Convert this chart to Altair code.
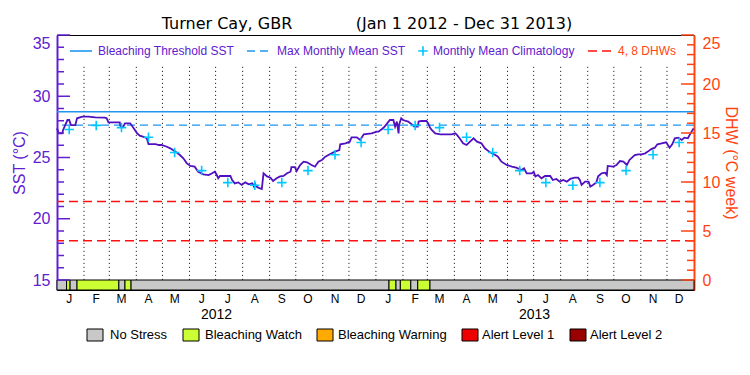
import altair as alt
import numpy as np
import pandas as pd

# ---------------- values ----------------
site_title = "Turner Cay, GBR"
period_title = "(Jan 1 2012 - Dec 31 2013)"

# daily SST line: day offset from 2012-01-01, SST (deg C)
sst_day = [0, 2, 6, 7, 12, 14, 16, 21, 23, 29, 36, 44, 55, 57, 59, 72, 73, 76, 78, 84,
           88, 92, 95, 101, 103, 105, 113, 117, 120, 126, 130, 136, 141, 145, 149, 153, 158, 162, 168, 174,
           178, 181, 183, 185,
           187, 199, 201, 204, 208, 212, 216, 220, 224, 226, 227, 229, 231, 235, 237, 241, 245, 248, 252, 256,
           260, 264, 268, 269, 273, 275, 279, 283, 287, 292, 296, 300, 304, 308, 313, 319, 324, 325, 331, 336,
           338, 344, 348, 352, 361, 367,
           369, 373, 376, 382, 386, 388, 390, 392, 392.5, 395, 397, 403, 407, 410, 414, 415, 418, 424, 426, 428,
           430, 434, 440, 453, 457, 459, 462, 466, 470, 474, 478, 482, 487, 491, 497, 503, 506, 510, 516, 522,
           527, 533, 536, 539, 545, 547, 549, 552,
           556, 560, 566, 569, 573, 577, 581, 585, 589, 594, 598, 600, 602, 606, 610, 612, 615, 619, 621, 625,
           629, 631, 632, 638, 642, 646, 650, 654, 657, 663, 667, 671, 675, 678, 682, 686, 689, 694, 699, 703,
           706, 709, 713, 717, 720, 724, 727, 730.5]
sst_val = [27.38, 26.97, 26.97, 27.25, 28.06, 28.06, 27.65, 27.65, 28.20, 28.33, 28.33, 28.28, 28.25, 28.20, 27.87, 27.87, 27.52, 27.52, 27.79, 27.79,
           27.38, 26.97, 26.78, 26.65, 26.57, 26.10, 26.10, 26.02, 26.02, 25.88, 25.75, 25.48, 25.20, 24.93, 24.52, 24.31, 24.25, 23.84, 23.63, 23.57,
           23.71, 23.84, 23.63, 23.30,
           23.49, 23.49, 23.16, 22.89, 22.97, 22.76, 22.97, 22.81, 22.89, 22.62, 22.89, 22.62, 22.54, 22.43, 23.71, 23.46, 23.35, 23.08, 23.30, 23.46,
           23.49, 23.71, 23.84, 24.22, 24.22, 23.90, 24.39, 24.66, 24.61, 24.39, 24.25, 24.66, 24.80, 25.07, 25.26, 25.48, 25.61, 26.08, 26.16, 26.29,
           26.65, 26.65, 26.43, 26.89, 26.97, 27.11,
           27.11, 27.33, 27.52, 28.06, 28.06, 27.52, 27.93, 26.97, 27.65, 28.20, 28.06, 27.93, 27.71, 27.52, 27.52, 27.93, 27.98, 27.98, 27.79, 27.44,
           27.25, 26.97, 26.89, 26.89, 26.97, 26.84, 26.57, 26.16, 26.02, 26.29, 26.57, 26.29, 26.16, 25.75, 25.42, 25.20, 25.07, 24.66, 24.39, 24.25,
           24.17, 23.98, 24.12, 23.71, 23.71, 23.84, 23.46, 23.57,
           23.30, 23.49, 23.49, 23.16, 23.25, 23.03, 23.16, 23.03, 23.25, 23.35, 23.35, 23.16, 22.76, 23.03, 23.03, 22.62, 22.76, 22.97, 23.46, 23.71,
           23.76, 23.57, 24.31, 24.25, 24.39, 24.71, 24.66, 24.39, 24.80, 25.20, 25.26, 25.26, 25.34, 25.48, 25.69, 25.80, 26.08, 26.16, 26.24, 25.80,
           26.08, 26.57, 26.62, 26.43, 26.62, 26.57, 26.97, 27.38]

# monthly mean climatology (same each year), plotted mid-month
clim_month = [1, 2, 3, 4, 5, 6, 7, 8, 9, 10, 11, 12]
clim_val = [27.28, 27.62, 27.44, 26.65, 25.41, 23.93, 22.95, 22.73, 22.95, 23.93, 25.23, 26.22]
month_letters = ["J", "F", "M", "A", "M", "J", "J", "A", "S", "O", "N", "D"]
years = [2012, 2013]

bleaching_threshold = 28.74
max_monthly_mean = 27.65
dhw_levels = [4, 8]

# bleaching stress status bar
stress_start = ["2012-01-01", "2012-01-12", "2012-01-16", "2012-01-24", "2012-03-12", "2012-03-19",
                "2012-03-26", "2013-01-16", "2013-01-24", "2013-01-29", "2013-02-10", "2013-02-18", "2013-03-04"]
stress_end = ["2012-01-12", "2012-01-16", "2012-01-24", "2012-03-12", "2012-03-19", "2012-03-26",
              "2013-01-16", "2013-01-24", "2013-01-29", "2013-02-10", "2013-02-18", "2013-03-04", "2014-01-01"]
stress_status = ["No Stress", "Bleaching Watch", "No Stress", "Bleaching Watch", "No Stress", "Bleaching Watch",
                 "No Stress", "Bleaching Watch", "No Stress", "Bleaching Watch", "No Stress", "Bleaching Watch", "No Stress"]

status_names = ["No Stress", "Bleaching Watch", "Bleaching Warning", "Alert Level 1", "Alert Level 2"]
status_colors = ["#C8C8C8", "#CCFF33", "#FFAA00", "#EE0000", "#990000"]

sst_major = [15, 20, 25, 30, 35]
sst_minor = [16, 17, 18, 19, 21, 22, 23, 24, 26, 27, 28, 29, 31, 32, 33, 34]
dhw_major = [0, 5, 10, 15, 20, 25]
dhw_minor = [1, 2, 3, 4, 6, 7, 8, 9, 11, 12, 13, 14, 16, 17, 18, 19, 21, 22, 23, 24]

legend_top = ["Bleaching Threshold SST", "Max Monthly Mean SST", "Monthly Mean Climatology", "4, 8 DHWs"]

# ---------------- style / layout ----------------
FONT = "Liberation Sans"
TITLE_FONT = "DejaVu Sans"
PURPLE = "#6020D0"
LINE_PURPLE = "#5010C0"
ORANGE = "#FF4411"
RED = "#FF1010"
BLUE = "#1E96F0"
CYAN = "#00C8FF"
W, H = 637, 255
PX_PER_DEG = 12.25
SST_LO = 15 - 10 / PX_PER_DEG       # room for the status bar under SST 15
DHW_SCALE = 20 / 25                   # DHW 0..25 shares the 15..35 SST range
GRID_TOP = 32.4
CROSS = "M-1,0H1M0,-1V1"


def dhw_to_sst(d):
    return 15 + d * DHW_SCALE


base = pd.Timestamp("2012-01-01")
sst_df = pd.DataFrame({"date": base + pd.to_timedelta(np.array(sst_day), unit="D"), "sst": sst_val})
clim_df = pd.DataFrame({
    "date": [pd.Timestamp(y, m, 15) for y in years for m in clim_month],
    "sst": [v for _ in years for v in clim_val],
})
month_df = pd.DataFrame({
    "date": [pd.Timestamp(y, m, 15) for y in years for m in clim_month],
    "label": [l for _ in years for l in month_letters],
})
grid_df = pd.DataFrame({"date": pd.date_range("2012-02-01", "2013-12-01", freq="MS")})
grid_df["top"] = GRID_TOP
grid_df["bot"] = 15
stress_df = pd.DataFrame({"start": pd.to_datetime(stress_start), "end": pd.to_datetime(stress_end),
                          "status": stress_status})
stress_df["lo"] = SST_LO
stress_df["hi"] = 15
year_df = pd.DataFrame({"date": [pd.Timestamp(y, 7, 2) for y in years], "label": [str(y) for y in years]})

xscale = alt.Scale(domain=[alt.DateTime(year=2012, month=1, date=1), alt.DateTime(year=2014, month=1, date=1)],
                   nice=False)
yscale = alt.Scale(domain=[SST_LO, 35], nice=False, zero=False)
color_scale = alt.Scale(domain=status_names, range=status_colors)

layers = []

# dotted month boundaries
layers.append(alt.Chart(grid_df).mark_rule(color="black", strokeDash=[1, 3], strokeWidth=1).encode(
    x=alt.X("date:T", scale=xscale, axis=None),
    y=alt.Y("top:Q", scale=yscale, axis=None), y2="bot:Q"))

# threshold / MMM / DHW lines
layers.append(alt.Chart(pd.DataFrame({"v": [bleaching_threshold]})).mark_rule(color=BLUE, strokeWidth=1.6).encode(
    y=alt.Y("v:Q", scale=yscale, axis=None)))
layers.append(alt.Chart(pd.DataFrame({"v": [max_monthly_mean]})).mark_rule(
    color=BLUE, strokeWidth=1.3, strokeDash=[8, 5]).encode(y=alt.Y("v:Q", scale=yscale, axis=None)))
layers.append(alt.Chart(pd.DataFrame({"v": [dhw_to_sst(d) for d in dhw_levels]})).mark_rule(
    color=RED, strokeWidth=1.5, strokeDash=[9, 5]).encode(y=alt.Y("v:Q", scale=yscale, axis=None)))

# SST line
layers.append(alt.Chart(sst_df).mark_line(color=LINE_PURPLE, strokeWidth=1.8).encode(
    x=alt.X("date:T", scale=xscale, axis=None),
    y=alt.Y("sst:Q", scale=yscale, axis=None)))

# climatology crosses
layers.append(alt.Chart(clim_df).mark_point(shape=CROSS, size=90, filled=False, color=CYAN, strokeWidth=1.6,
                                             opacity=1).encode(
    x=alt.X("date:T", scale=xscale, axis=None), y=alt.Y("sst:Q", scale=yscale, axis=None)))

# stress bar
layers.append(alt.Chart(stress_df).mark_rect(stroke="black", strokeWidth=1).encode(
    x=alt.X("start:T", scale=xscale, axis=None), x2="end:T",
    y=alt.Y("lo:Q", scale=yscale, axis=None), y2="hi:Q",
    color=alt.Color("status:N", scale=color_scale, legend=None)))

# left axis (SST) with inward ticks
layers.append(alt.Chart(pd.DataFrame({"v": sst_major})).mark_rule(color=PURPLE, strokeWidth=1.5).encode(
    y=alt.Y("v:Q", scale=yscale, axis=alt.Axis(
        orient="left", values=sst_major, format="d", ticks=False, tickSize=0, grid=False,
        domainColor=PURPLE, domainWidth=2, labelColor=PURPLE, labelFontSize=16, labelPadding=7,
        labelFlush=True, title="SST (°C)", titleColor=PURPLE, titleFontSize=16, titleFontWeight="normal",
        titlePadding=5)),
    x=alt.value(0), x2=alt.value(13)))
layers.append(alt.Chart(pd.DataFrame({"v": sst_minor})).mark_rule(color=PURPLE, strokeWidth=1.5).encode(
    y=alt.Y("v:Q", scale=yscale, axis=None), x=alt.value(0), x2=alt.value(7)))

# right axis (DHW) with inward ticks
layers.append(alt.Chart(pd.DataFrame({"v": [dhw_to_sst(d) for d in dhw_major]})).mark_rule(
    color=ORANGE, strokeWidth=1.5).encode(
    y=alt.Y("v:Q", scale=yscale, axis=alt.Axis(
        orient="right", values=[dhw_to_sst(d) for d in dhw_major],
        labelExpr="format((datum.value - 15) / %s, 'd')" % DHW_SCALE,
        ticks=False, tickSize=0, grid=False, domainColor=ORANGE, domainWidth=2, labelColor=ORANGE,
        labelFontSize=16, labelPadding=8, labelFlush=True, title="DHW (°C week)", titleColor=ORANGE,
        titleFontSize=16, titleFontWeight="normal", titlePadding=3)),
    x=alt.value(W), x2=alt.value(W - 13)))
layers.append(alt.Chart(pd.DataFrame({"v": [dhw_to_sst(d) for d in dhw_minor]})).mark_rule(
    color=ORANGE, strokeWidth=1.5).encode(
    y=alt.Y("v:Q", scale=yscale, axis=None), x=alt.value(W), x2=alt.value(W - 7)))

# month and year labels under the status bar
layers.append(alt.Chart(month_df).mark_text(fontSize=12, color="black", baseline="middle").encode(
    x=alt.X("date:T", scale=xscale, axis=None), y=alt.value(264), text="label:N"))
layers.append(alt.Chart(year_df).mark_text(fontSize=14, color="black", baseline="middle").encode(
    x=alt.X("date:T", scale=xscale, axis=None), y=alt.value(280), text="label:N"))

# title
layers.append(alt.Chart(pd.DataFrame({"t": [site_title]})).mark_text(
    font=TITLE_FONT, fontSize=16, color="black", align="center", baseline="alphabetic").encode(
    x=alt.value(170), y=alt.value(-6), text="t:N"))
layers.append(alt.Chart(pd.DataFrame({"t": [period_title]})).mark_text(
    font=TITLE_FONT, fontSize=16, color="black", align="center", baseline="alphabetic").encode(
    x=alt.value(407), y=alt.value(-6), text="t:N"))

# top legend
LY = 16
layers.append(alt.Chart(pd.DataFrame({"a": [0]})).mark_rule(color=BLUE, strokeWidth=1.6).encode(
    x=alt.value(13), x2=alt.value(35), y=alt.value(LY)))
layers.append(alt.Chart(pd.DataFrame({"a": [0]})).mark_rule(color=BLUE, strokeWidth=1.3, strokeDash=[8, 5]).encode(
    x=alt.value(190), x2=alt.value(211), y=alt.value(LY)))
layers.append(alt.Chart(pd.DataFrame({"a": [0]})).mark_point(
    shape=CROSS, size=90, filled=False, color=CYAN, strokeWidth=1.6, opacity=1).encode(
    x=alt.value(366), y=alt.value(LY)))
layers.append(alt.Chart(pd.DataFrame({"a": [0]})).mark_rule(color=RED, strokeWidth=1.5, strokeDash=[9, 5]).encode(
    x=alt.value(531), x2=alt.value(555), y=alt.value(LY)))
for txt, xpos, col in zip(legend_top, [41, 220, 376, 561], [PURPLE, PURPLE, PURPLE, ORANGE]):
    layers.append(alt.Chart(pd.DataFrame({"t": [txt]})).mark_text(
        fontSize=12, color=col, align="left", baseline="middle").encode(
        x=alt.value(xpos), y=alt.value(LY), text="t:N"))

# bottom status legend
for name, col, bx, tx in zip(status_names, status_colors, [30, 126, 260, 405, 513], [53, 148, 281, 425, 533]):
    layers.append(alt.Chart(pd.DataFrame({"a": [0]})).mark_rect(color=col, stroke="black", strokeWidth=1).encode(
        x=alt.value(bx), x2=alt.value(bx + 16), y=alt.value(294), y2=alt.value(306)))
    layers.append(alt.Chart(pd.DataFrame({"t": [name]})).mark_text(
        fontSize=13, color="black", align="left", baseline="middle").encode(
        x=alt.value(tx), y=alt.value(300), text="t:N"))

chart = alt.layer(*layers).resolve_axis(y="independent").properties(
    width=W, height=H,
    autosize=alt.AutoSizeParams(type="none"),
    padding={"left": 49, "top": 27, "right": 48, "bottom": 77},
).configure(font=FONT).configure_view(stroke="black", strokeWidth=1)

chart.save("out.html", embed_options={"renderer": "svg", "actions": False})
